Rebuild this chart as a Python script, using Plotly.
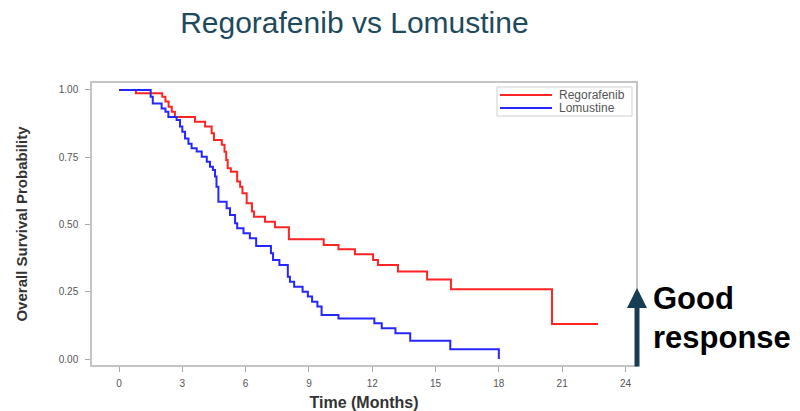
import plotly.graph_objects as go

# Kaplan-Meier step data
rego_t = [0, 0.8, 2.05, 2.2, 2.35, 2.5, 2.65, 3.6, 4.08, 4.39, 4.5, 4.87, 5.0, 5.08, 5.15, 5.3,
          5.6, 5.74, 5.85, 6.05, 6.3, 6.4, 6.92, 7.39, 8.05, 9.7, 10.4, 11.18, 12.04, 12.27,
          13.22, 14.6, 15.73, 20.52, 22.7]
rego_s = [1.0, 0.988, 0.975, 0.957, 0.938, 0.919, 0.90, 0.882, 0.864, 0.839, 0.814, 0.796, 0.77,
          0.74, 0.709, 0.696, 0.66, 0.64, 0.616, 0.579, 0.548, 0.529, 0.51, 0.49, 0.445, 0.424,
          0.408, 0.389, 0.368, 0.349, 0.325, 0.296, 0.259, 0.13, 0.13]

lomu_t = [0, 1.5, 1.6, 2.02, 2.2, 2.34, 2.73, 2.89, 3.0, 3.13, 3.29, 3.44, 3.68, 3.92, 4.16, 4.31,
          4.45, 4.55, 4.62, 4.71, 5.1, 5.26, 5.5, 5.6, 5.9, 6.2, 6.5, 7.2, 7.3, 7.6, 8.0, 8.1, 8.3,
          8.7, 8.95, 9.15, 9.4, 9.6, 10.4, 12.1, 12.45, 13.1, 13.8, 15.7, 18.0]
lomu_s = [1.0, 0.975, 0.95, 0.931, 0.919, 0.90, 0.888, 0.864, 0.845, 0.82, 0.80, 0.783, 0.771,
          0.752, 0.733, 0.715, 0.703, 0.678, 0.64, 0.585, 0.56, 0.535, 0.505, 0.486, 0.467, 0.449,
          0.42, 0.393, 0.368, 0.349, 0.306, 0.287, 0.269, 0.25, 0.232, 0.213, 0.195, 0.164, 0.151,
          0.133, 0.114, 0.096, 0.068, 0.036, 0.0]

series_names = ["Regorafenib", "Lomustine"]
series_colors = ["#FF2424", "#2626FF"]

x_ticks = [0, 3, 6, 9, 12, 15, 18, 21, 24]
y_ticks = [0.0, 0.25, 0.5, 0.75, 1.0]

FONT = "Liberation Sans, Arial, sans-serif"

# plot-area pixel geometry (for paper-coordinate helpers)
L, R, T, B = 92, 636, 83, 365
W, H = R - L, B - T


def px(xp):
    return (xp - L) / W


def py(yp):
    return (B - yp) / H


fig = go.Figure()
for t, s, name, col in [(rego_t, rego_s, series_names[0], series_colors[0]),
                        (lomu_t, lomu_s, series_names[1], series_colors[1])]:
    fig.add_trace(go.Scatter(x=t, y=s, mode="lines", name=name, showlegend=False,
                             line=dict(color=col, width=2, shape="hv")))

axis_common = dict(showline=True, linecolor="#C4C4C4", linewidth=1.5, mirror=True,
                   showgrid=False, zeroline=False, ticks="outside", ticklen=5,
                   tickcolor="#A8A8A8", tickfont=dict(size=10, color="#555555", family=FONT))

fig.update_xaxes(range=[-1.28, 24.5], tickvals=x_ticks, ticklabelstandoff=3,
                 title=dict(text="Time (Months)", font=dict(size=16, color="#333333", family=FONT,
                                                             weight="bold"), standoff=9),
                 **axis_common)
fig.update_yaxes(range=[-0.0223, 1.026], tickvals=y_ticks, tickformat=".2f",
                 ticklabelstandoff=5,
                 title=dict(text="Overall Survival Probability",
                            font=dict(size=15, color="#333333", family=FONT, weight="bold"),
                            standoff=28),
                 **axis_common)

fig.update_layout(
    width=800, height=411,
    margin=dict(l=L, r=800 - R, t=T, b=411 - B, autoexpand=False),
    paper_bgcolor="white", plot_bgcolor="white",
    font=dict(family=FONT),
    title=dict(text="Regorafenib vs Lomustine", x=0.443, xanchor="center",
               y=1 - 22 / 411, yref="container", yanchor="middle",
               font=dict(size=30, color="#1E4A5C", family=FONT)),
    showlegend=False,
)

# Legend drawn as a small boxed key
fig.add_shape(type="rect", xref="paper", yref="paper",
              x0=px(497), x1=px(632), y0=py(116), y1=py(87),
              line=dict(color="#D0D0D0", width=1), fillcolor="white")
for i, (name, col) in enumerate(zip(series_names, series_colors)):
    yy = py(95 + 13 * i)
    fig.add_shape(type="line", xref="paper", yref="paper",
                  x0=px(500), x1=px(552), y0=yy, y1=yy,
                  line=dict(color=col, width=2))
    fig.add_annotation(x=px(557), y=yy, xref="paper", yref="paper", text=name,
                       showarrow=False, xanchor="left", yanchor="middle",
                       font=dict(size=12, color="#555555", family=FONT))

# Arrow "Good response"
fig.add_annotation(x=px(637), y=py(288), xref="paper", yref="paper",
                   ax=0, ay=80, axref="pixel", ayref="pixel", text="",
                   showarrow=True, arrowhead=2, arrowsize=0.8, arrowwidth=5, arrowcolor="#163D54")
fig.add_annotation(x=px(651), y=py(298), xref="paper", yref="paper",
                   text="<b>Good</b>", showarrow=False, xanchor="left", yanchor="middle",
                   font=dict(size=31, color="#000000", family=FONT))
fig.add_annotation(x=px(651), y=py(337), xref="paper", yref="paper",
                   text="<b>response</b>", showarrow=False, xanchor="left", yanchor="middle",
                   font=dict(size=31, color="#000000", family=FONT))

fig.write_html("out.html", config={"displayModeBar": False},
               post_script="document.body.style.margin='0';")
